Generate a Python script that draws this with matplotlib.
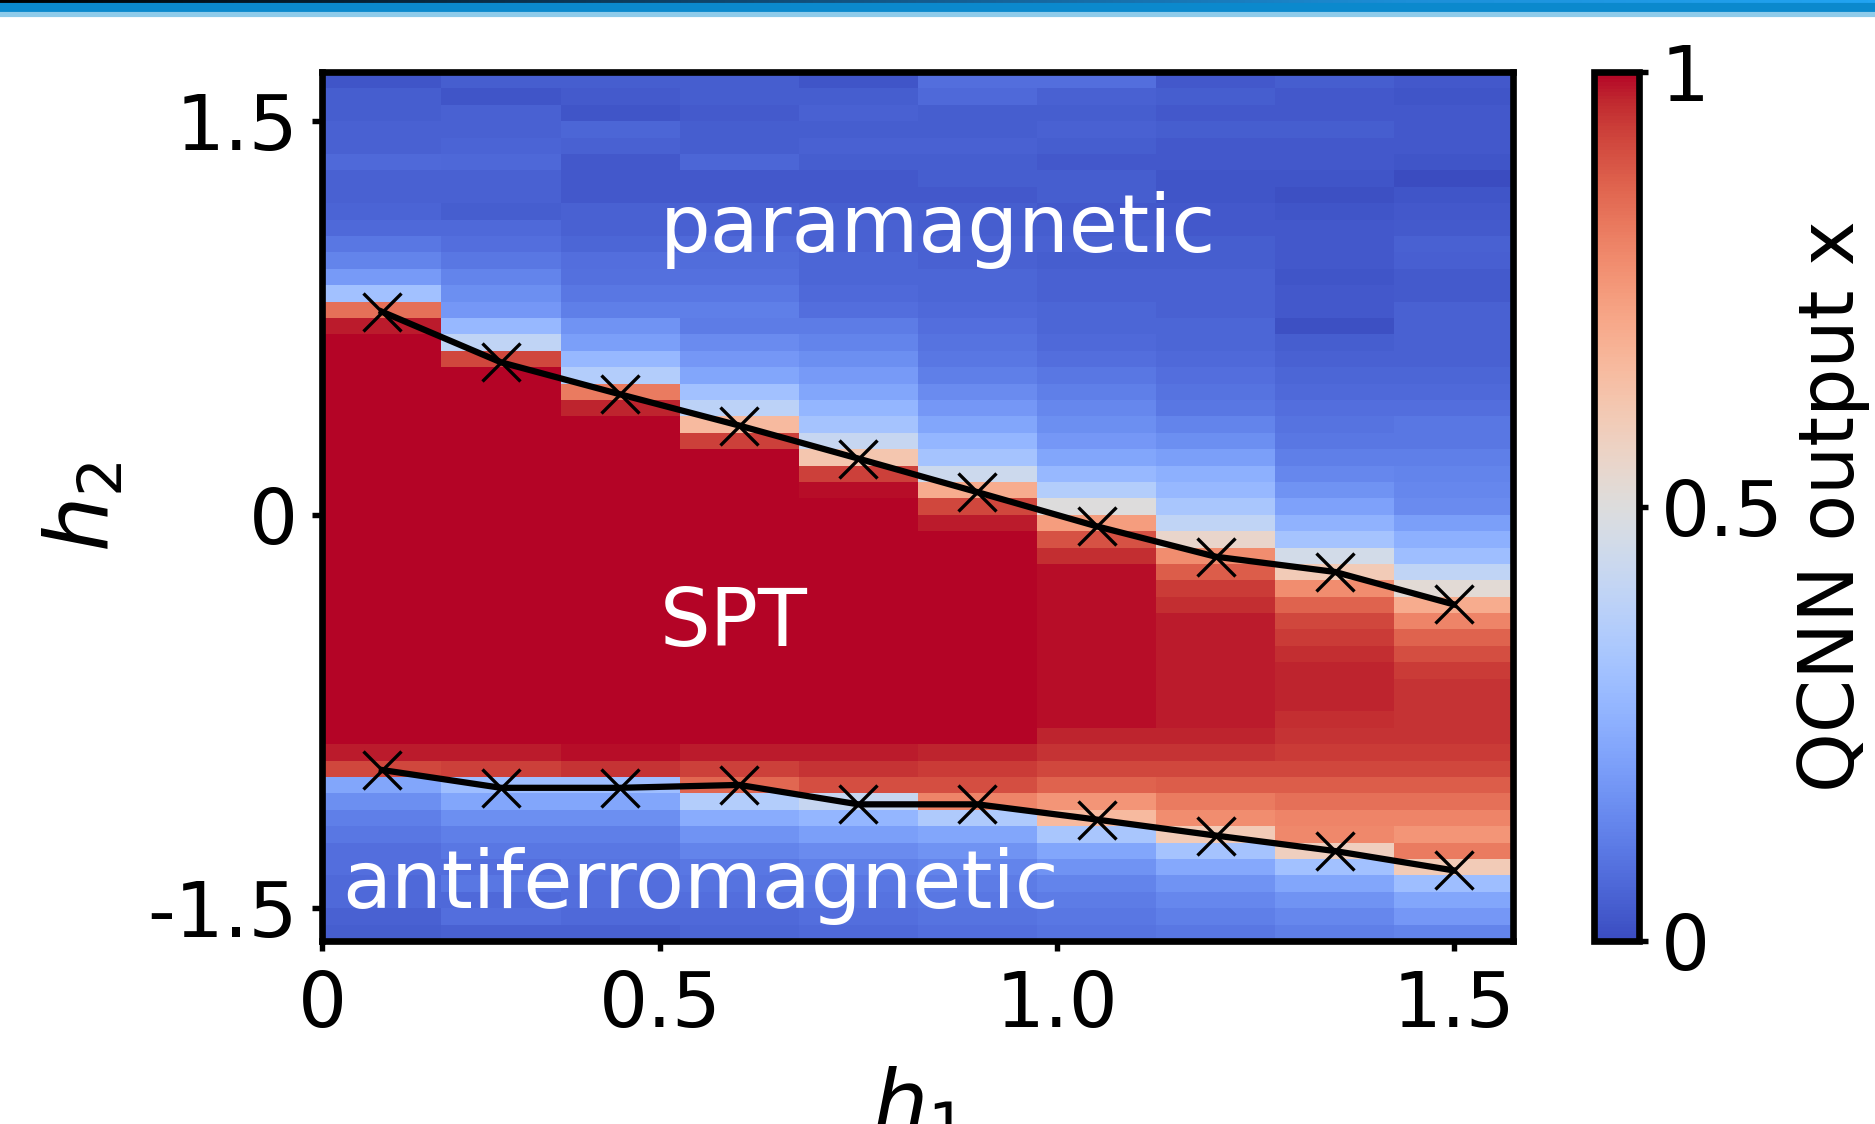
import matplotlib
matplotlib.use('Agg')
import matplotlib.pyplot as plt
import numpy as np
from matplotlib.colors import LinearSegmentedColormap
from matplotlib.patches import Rectangle

# h1 value of each heatmap column
h1 = [0.15, 0.30, 0.45, 0.60, 0.75, 0.90, 1.05, 1.20, 1.35, 1.50]

# QCNN output for each column, 53 rows listed from top (h2 ~ 1.66) to bottom (h2 ~ -1.59)
col_015 = [0.02, 0.04, 0.04, 0.05, 0.05, 0.07, 0.05, 0.05, 0.055, 0.07, 0.10, 0.13, 0.19, 0.31, 0.84, 0.98] \
    + [1.0] * 25 \
    + [0.98, 0.92, 0.22, 0.16, 0.12, 0.10, 0.08, 0.08, 0.07, 0.07, 0.05, 0.04]
col_030 = [0.04, 0.02, 0.05, 0.05, 0.055, 0.065, 0.05, 0.05, 0.04, 0.07, 0.08, 0.10, 0.13, 0.16, 0.18, 0.28, 0.40, 0.92] \
    + [1.0] * 23 \
    + [0.98, 0.93, 0.30, 0.22, 0.16, 0.12, 0.10, 0.08, 0.10, 0.07, 0.08, 0.05]
col_045 = [0.04, 0.035, 0.02, 0.06, 0.05, 0.03, 0.03, 0.03, 0.05, 0.05, 0.06, 0.08, 0.085, 0.10, 0.12, 0.17, 0.20,
           0.28, 0.36, 0.82, 0.97] \
    + [1.0] * 20 \
    + [0.99, 0.95, 0.30, 0.22, 0.16, 0.12, 0.10, 0.09, 0.08, 0.08, 0.07, 0.05]
col_060 = [0.04, 0.04, 0.035, 0.04, 0.04, 0.06, 0.03, 0.03, 0.05, 0.05, 0.07, 0.075, 0.085, 0.10, 0.12, 0.11, 0.15,
           0.18, 0.22, 0.31, 0.39, 0.66, 0.93] \
    + [1.0] * 18 \
    + [0.98, 0.93, 0.86, 0.36, 0.24, 0.17, 0.13, 0.10, 0.09, 0.08, 0.07, 0.06]
col_075 = [0.02, 0.04, 0.05, 0.04, 0.05, 0.04, 0.03, 0.03, 0.04, 0.05, 0.05, 0.06, 0.06, 0.07, 0.08, 0.11, 0.13,
           0.16, 0.19, 0.22, 0.27, 0.32, 0.42, 0.62, 0.93, 0.99] \
    + [1.0] * 15 \
    + [0.98, 0.95, 0.91, 0.42, 0.27, 0.20, 0.15, 0.12, 0.10, 0.09, 0.08, 0.07]
col_090 = [0.08, 0.07, 0.04, 0.04, 0.05, 0.04, 0.04, 0.03, 0.04, 0.04, 0.05, 0.05, 0.06, 0.06, 0.07, 0.08, 0.09,
           0.10, 0.12, 0.15, 0.18, 0.22, 0.27, 0.32, 0.44, 0.70, 0.92, 0.98] \
    + [1.0] * 13 \
    + [0.97, 0.94, 0.91, 0.80, 0.35, 0.22, 0.17, 0.13, 0.11, 0.10, 0.09, 0.08]
col_105 = [0.08, 0.05, 0.04, 0.05, 0.04, 0.03, 0.04, 0.04, 0.03, 0.04, 0.05, 0.04, 0.05, 0.05, 0.06, 0.06, 0.07,
           0.08, 0.10, 0.12, 0.14, 0.16, 0.18, 0.22, 0.28, 0.36, 0.50, 0.74, 0.90, 0.96] \
    + [0.99] * 10 \
    + [0.97, 0.95, 0.92, 0.87, 0.76, 0.66, 0.33, 0.22, 0.17, 0.13, 0.11, 0.10, 0.09]
col_120 = [0.03, 0.04, 0.03, 0.04, 0.03, 0.03, 0.02, 0.02, 0.03, 0.03, 0.04, 0.04, 0.05, 0.05, 0.05, 0.06, 0.06,
           0.07, 0.08, 0.09, 0.10, 0.13, 0.16, 0.20, 0.25, 0.28, 0.33, 0.40, 0.55, 0.78, 0.88, 0.94, 0.96] \
    + [0.98] * 7 \
    + [0.97, 0.95, 0.92, 0.88, 0.82, 0.78, 0.60, 0.32, 0.23, 0.17, 0.14, 0.12, 0.10]
col_135 = [0.04, 0.03, 0.03, 0.04, 0.03, 0.03, 0.02, 0.01, 0.02, 0.03, 0.03, 0.03, 0.02, 0.03, 0.03, 0.01, 0.04,
           0.05, 0.06, 0.07, 0.08, 0.09, 0.10, 0.12, 0.14, 0.17, 0.21, 0.26, 0.32, 0.46, 0.60, 0.78, 0.87, 0.92,
           0.94, 0.96, 0.97, 0.97, 0.97, 0.96, 0.95, 0.94, 0.92, 0.88, 0.84, 0.80, 0.79, 0.58, 0.31, 0.22, 0.17,
           0.14, 0.12]
col_150 = [0.03, 0.02, 0.03, 0.03, 0.03, 0.02, 0.00, 0.02, 0.03, 0.035, 0.05, 0.045, 0.035, 0.035, 0.05, 0.05,
           0.05, 0.05, 0.06, 0.07, 0.08, 0.10, 0.10, 0.12, 0.13, 0.14, 0.15, 0.20, 0.25, 0.30, 0.40, 0.52, 0.70,
           0.80, 0.87, 0.91, 0.94, 0.95, 0.95, 0.95, 0.95, 0.94, 0.92, 0.88, 0.84, 0.80, 0.76, 0.82, 0.60, 0.30,
           0.22, 0.18, 0.13]

# phase boundary points (crosses)
upper_h2 = [0.774, 0.581, 0.459, 0.340, 0.214, 0.086, -0.044, -0.160, -0.218, -0.342]
lower_h2 = [-0.973, -1.041, -1.041, -1.030, -1.104, -1.104, -1.162, -1.223, -1.282, -1.356]

xtick_pos = [0.075, 0.5, 1.0, 1.5]
xtick_lab = ['0', '0.5', '1.0', '1.5']
ytick_pos = [-1.5, 0, 1.5]
ytick_lab = ['-1.5', '0', '1.5']
cb_ticks = [0, 0.5, 1]
cb_lab = ['0', '0.5', '1']

cols = [col_015, col_030, col_045, col_060, col_075, col_090, col_105, col_120, col_135, col_150]
Z = np.array(cols).T[::-1]   # rows bottom -> top

x_edges = np.append(np.array(h1) - 0.075, h1[-1] + 0.075)
y_edges = -1.625 + 0.0625 * np.arange(Z.shape[0] + 1)

fig = plt.figure(figsize=(6.25, 1124 / 300))

# banner strip at the top
bcmap = LinearSegmentedColormap.from_list('banner', ['#000000', '#0a2c45', '#155d90', '#1d8fd8', '#22a4f2'])
bax = fig.add_axes([0, 1 - 4.7 / 1124, 1, 4.7 / 1124])
bax.imshow(np.linspace(0, 1, 256)[None, :], aspect='auto', cmap=bcmap)
bax.axis('off')
fig.patches.append(Rectangle((0, 1 - 14 / 1124), 1, 9.3 / 1124, transform=fig.transFigure,
                             color='#0b89cd', zorder=0))
fig.patches.append(Rectangle((0, 1 - 15 / 1124), 1, 1.2 / 1124, transform=fig.transFigure,
                             color='#8ecbea', zorder=0))

ax = fig.add_axes([0.1719, 0.1628, 0.6353, 0.7731])
mesh = ax.pcolormesh(x_edges, y_edges, Z, cmap='coolwarm', vmin=0, vmax=1, shading='flat')

ax.plot(h1, upper_h2, 'k-x', lw=1.5, ms=9, mew=0.8)
ax.plot(h1, lower_h2, 'k-x', lw=1.5, ms=9, mew=0.8)

ax.text(0.5, 1.0, 'paramagnetic', color='white', fontsize=19.2)
ax.text(0.5, -0.5, 'SPT', color='white', fontsize=19.2)
ax.text(0.1, -1.5, 'antiferromagnetic', color='white', fontsize=19.2)

ax.set_xlim(x_edges[0], x_edges[-1])
ax.set_ylim(y_edges[0], y_edges[-1])
ax.set_xticks(xtick_pos)
ax.set_xticklabels(xtick_lab)
ax.set_yticks(ytick_pos)
ax.set_yticklabels(ytick_lab)
ax.tick_params(length=2.3, width=1.3, labelsize=18.5)
ax.tick_params(axis='x', pad=4.5)
for s in ax.spines.values():
    s.set_linewidth(1.6)

ax.set_xlabel('$h_1$', fontsize=21, labelpad=5.5)
ax.set_ylabel('$h_2$', fontsize=21, labelpad=5)

cax = fig.add_axes([0.8501, 0.1628, 0.0239, 0.7731])
cb = fig.colorbar(mesh, cax=cax, ticks=cb_ticks)
cb.ax.set_yticklabels(cb_lab)
cb.outline.set_linewidth(1.6)
cb.ax.tick_params(length=2.2, width=1.3, labelsize=18.5, pad=3)
cb.set_label('QCNN output x', fontsize=18.3, labelpad=3)

fig.savefig('out.png', dpi=300)
